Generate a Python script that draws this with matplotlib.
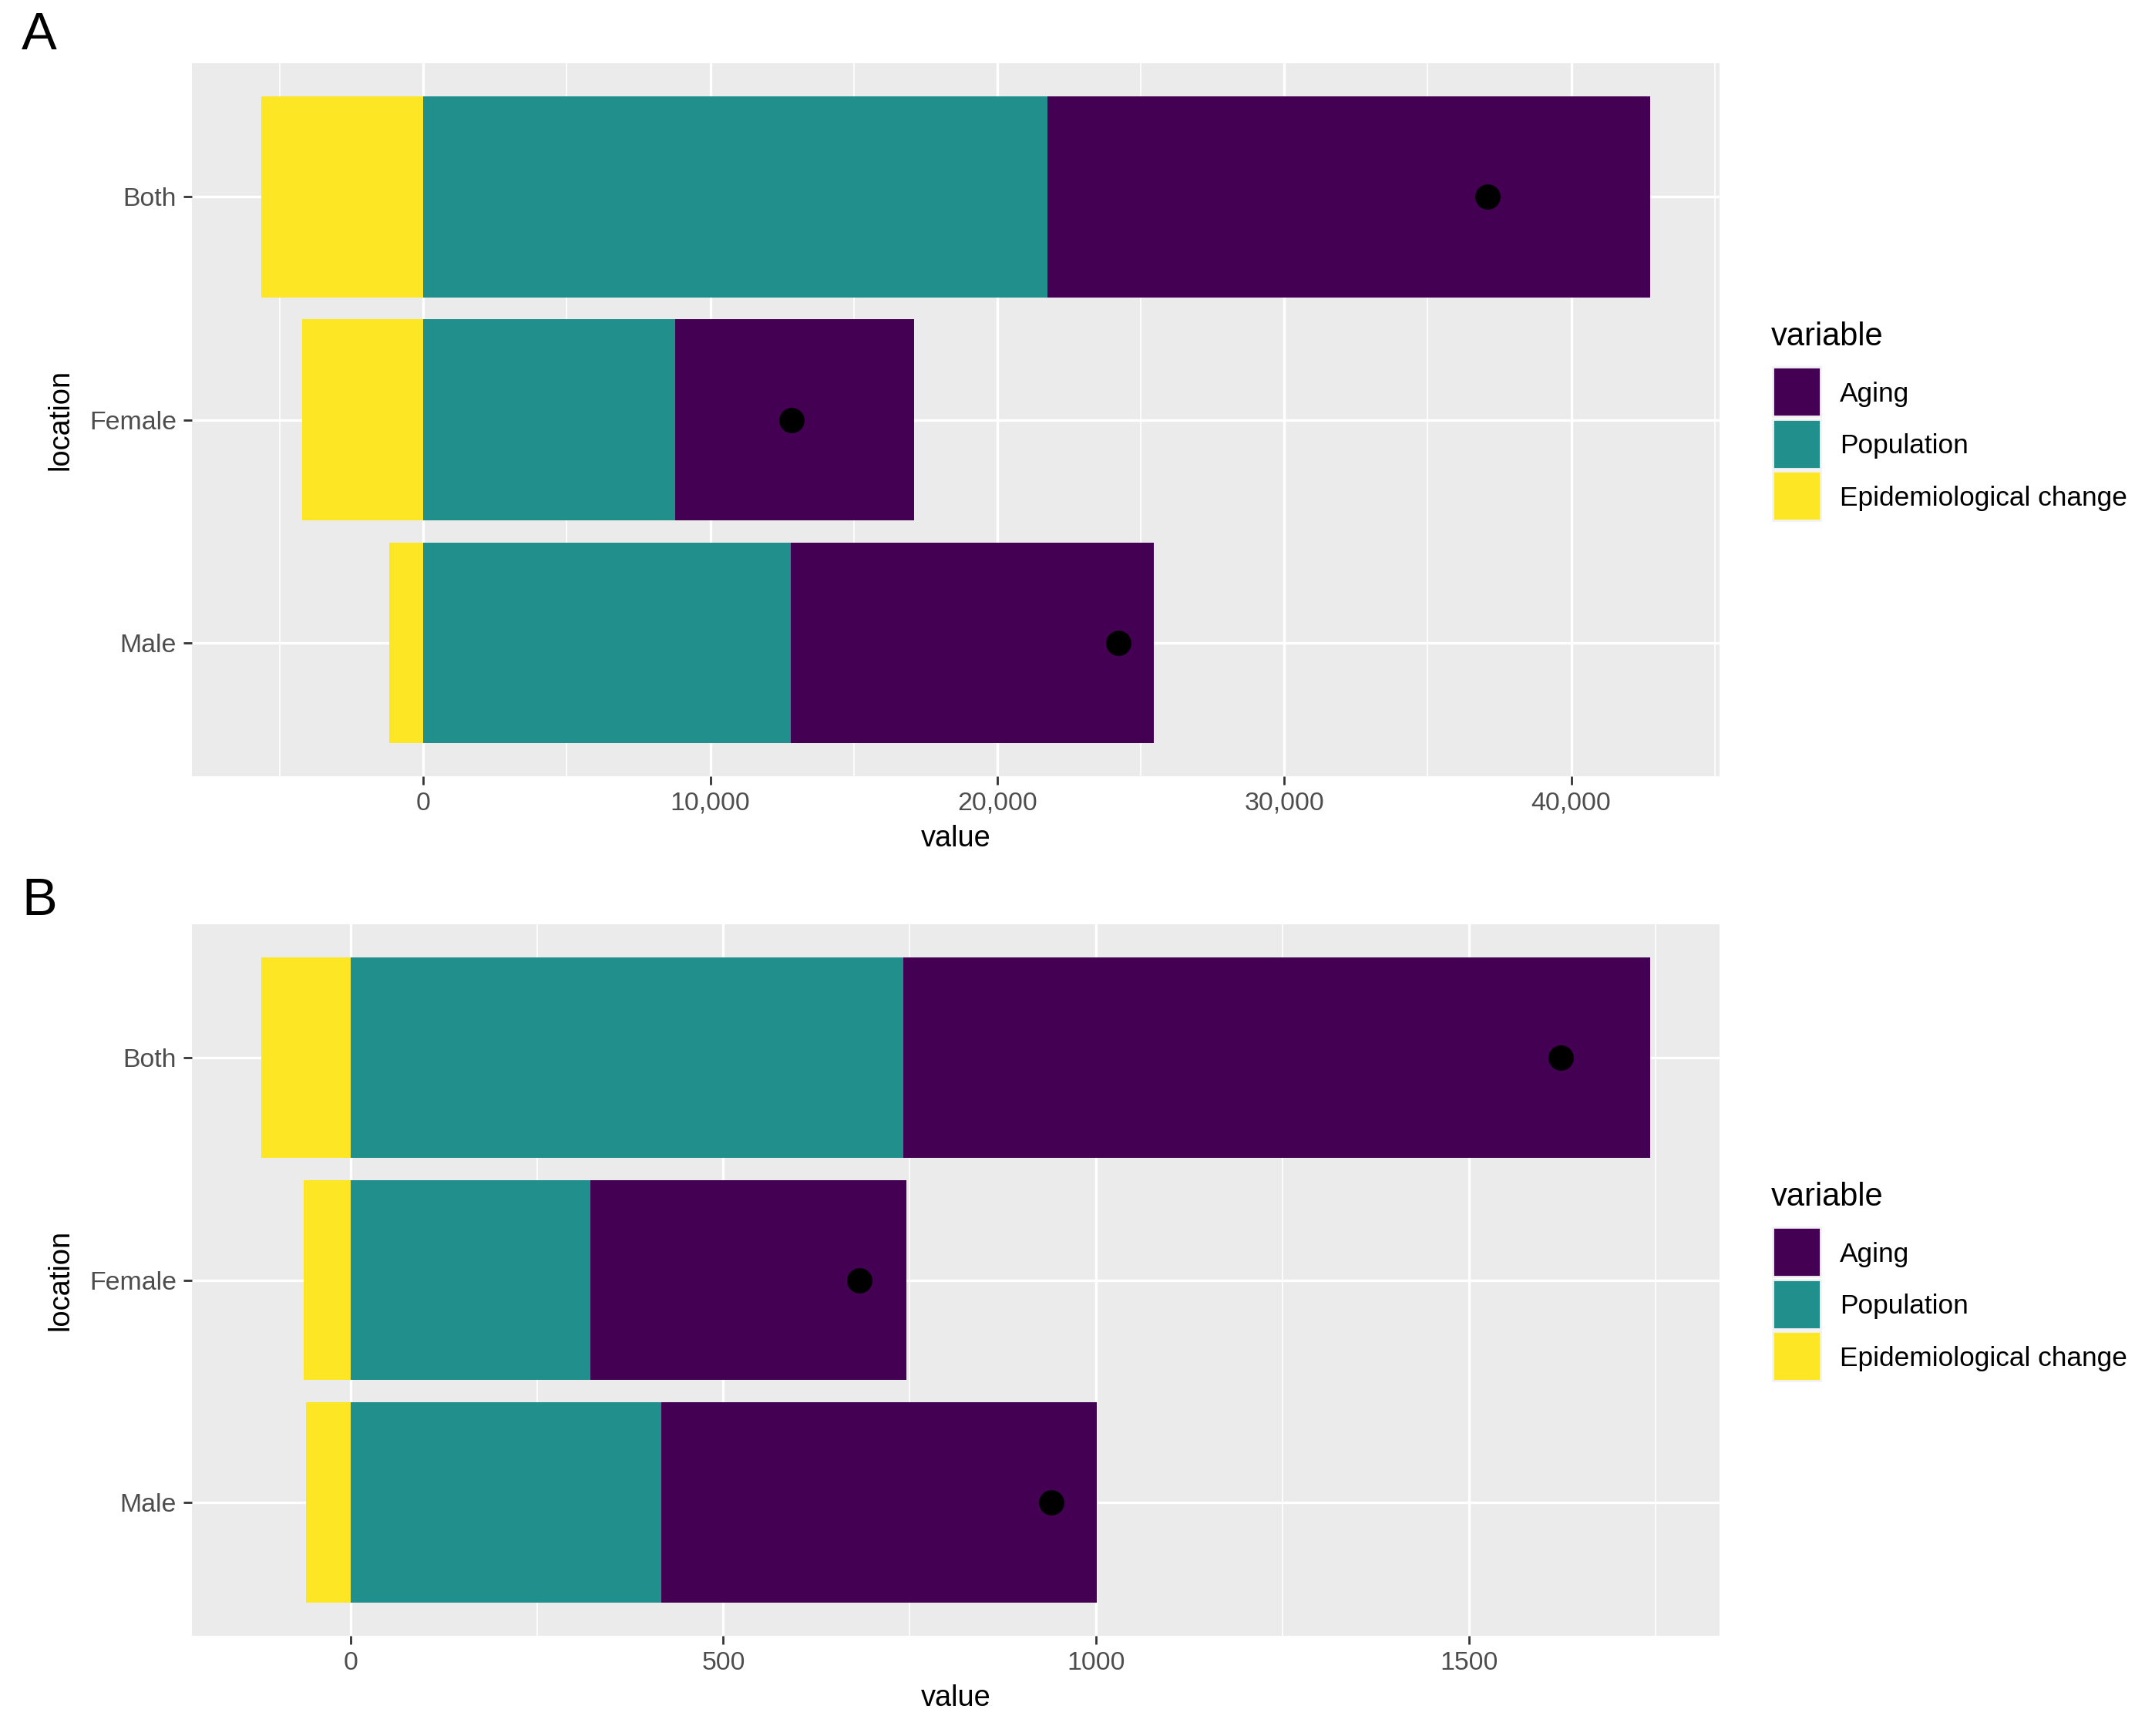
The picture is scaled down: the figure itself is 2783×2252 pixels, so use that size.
import matplotlib
matplotlib.use("Agg")
import matplotlib.pyplot as plt
from matplotlib.patches import Rectangle
from matplotlib.ticker import MultipleLocator, FuncFormatter

plt.rcParams["font.family"] = ["Liberation Sans", "DejaVu Sans"]

# ---- data ----
locations = ["Both", "Female", "Male"]
variables = ["Aging", "Population", "Epidemiological change"]
colors = {"Aging": "#440154", "Population": "#21908C", "Epidemiological change": "#FDE725"}

# panel A
aging_a = [21000, 8320, 12645]
pop_a = [21750, 8780, 12810]
epi_a = [-5655, -4225, -1200]
total_a = [37095, 12845, 24225]

# panel B
aging_b = [1002, 424, 584]
pop_b = [741, 322, 417]
epi_b = [-120, -63, -60]
total_b = [1623, 682, 940]

W, H, DPI = 2783, 2252, 200
TICK, TITLE, LEG, LEGT = 12.2, 13.7, 12.7, 15


def legend(fig, ax):
    # ggplot-style legend drawn in pixel units, centred on the panel
    pos = ax.get_position()
    c = (1 - 0.5 * (pos.y0 + pos.y1)) * H          # panel centre, px from top
    fx = lambda px: px / W
    fy = lambda py: 1 - py / H
    fig.text(fx(2298), fy(c - 97), "variable", fontsize=LEGT, va="baseline", ha="left")
    for i, v in enumerate(variables):
        top = c - 68.5 + 67.5 * i
        fig.add_artist(Rectangle((fx(2300), fy(top + 64)), 62 / W, 64 / H, transform=fig.transFigure,
                                 facecolor=colors[v], edgecolor="#F2F2F2", lw=1))
        fig.text(fx(2387), fy(top + 32 + 12.5), v, fontsize=LEG, va="baseline", ha="left")


def panel(ax, aging, pop, epi, total, major, minor, fmt):
    y = [len(locations) - i for i in range(len(locations))]
    ax.barh(y, epi, left=0, height=0.9, color=colors["Epidemiological change"], zorder=2)
    ax.barh(y, pop, left=0, height=0.9, color=colors["Population"], zorder=2)
    ax.barh(y, aging, left=pop, height=0.9, color=colors["Aging"], zorder=2)
    ax.plot(total, y, "o", color="black", ms=10.8, zorder=3)

    lo = min(min(epi), 0); hi = max(p + a for p, a in zip(pop, aging))
    pad = 0.05 * (hi - lo)
    ax.set_xlim(lo - pad, hi + pad); ax.set_ylim(0.4, len(locations) + 0.6)
    ax.set_yticks(y); ax.set_yticklabels(locations)
    ax.xaxis.set_major_locator(MultipleLocator(major))
    ax.xaxis.set_minor_locator(MultipleLocator(minor))
    ax.xaxis.set_major_formatter(FuncFormatter(fmt))

    ax.set_facecolor("#EBEBEB")
    for s in ax.spines.values(): s.set_visible(False)
    ax.grid(which="major", color="white", lw=1.2)
    ax.grid(which="minor", axis="x", color="white", lw=0.6)
    ax.set_axisbelow(True)
    ax.tick_params(which="major", length=4, width=1.0, color="#333333",
                   labelsize=TICK, labelcolor="#4D4D4D", pad=3)
    ax.tick_params(which="minor", length=0)
    ax.set_xlabel("value", fontsize=TITLE, labelpad=4.5)
    ax.set_ylabel("location", fontsize=TITLE, labelpad=7)
    legend(ax.figure, ax)


fig = plt.figure(figsize=(W / DPI, H / DPI), dpi=DPI, facecolor="white")
axA = fig.add_axes([0.0893, 0.5528, 0.7124, 0.4108])
axB = fig.add_axes([0.0893, 0.0577, 0.7124, 0.4099])

panel(axA, aging_a, pop_a, epi_a, total_a, 10000, 5000, lambda v, p: f"{v:,.0f}")
panel(axB, aging_b, pop_b, epi_b, total_b, 500, 250, lambda v, p: f"{v:.0f}")

fig.text(0.0101, 0.9938, "A", fontsize=24.7, va="top", ha="left")
fig.text(0.0101, 0.4951, "B", fontsize=24.7, va="top", ha="left")

fig.savefig("out.png", dpi=DPI, facecolor="white")
